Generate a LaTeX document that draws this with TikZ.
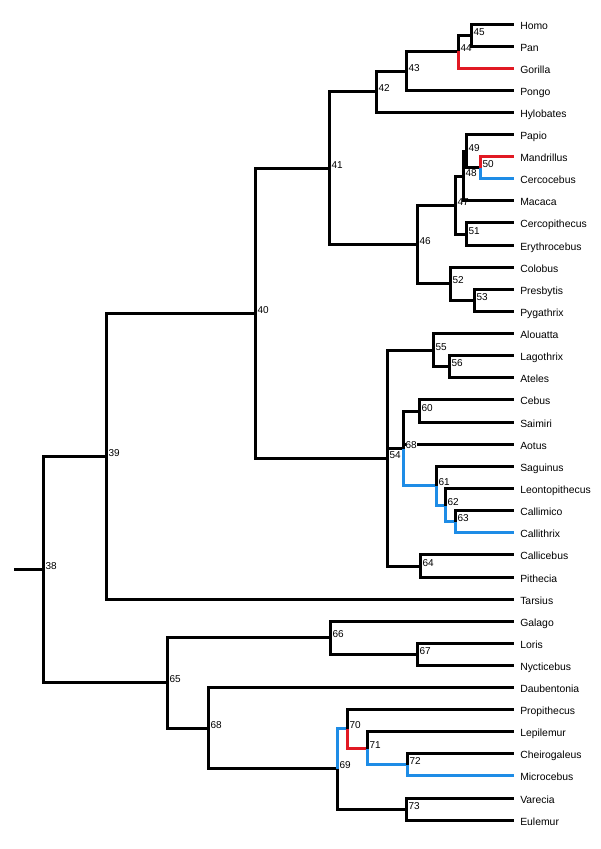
\documentclass[tikz,border=0pt]{standalone}
\usepackage{fontspec}
\setmainfont{Liberation Sans}
\usepackage{xcolor}
\usepackage{tikz}
\definecolor{branchred}{RGB}{225,25,35}
\definecolor{branchblue}{RGB}{30,140,230}

\begin{document}
\begin{tikzpicture}[x=0.75pt,y=0.75pt,
  branch/.style={black,line width=2.25pt},
  taxon/.style={anchor=west,inner xsep=4.5pt,inner ysep=0pt,text height=0.72em,text depth=0pt,font=\fontsize{7.8}{9}\selectfont},
  num/.style={anchor=base west,inner sep=0pt,xshift=1.3pt,font=\fontsize{7.5}{9}\selectfont}]
\useasboundingbox (0,0) rectangle (600,-849);

% Taxa
\node[taxon] (Homo) at (514,-24.5) {Homo};
\node[taxon] (Pan) at (514,-46.5) {Pan};
\node[taxon] (Gorilla) at (514,-68.5) {Gorilla};
\node[taxon] (Pongo) at (514,-90.5) {Pongo};
\node[taxon] (Hylobates) at (514,-112.5) {Hylobates};
\node[taxon] (Papio) at (514,-134.5) {Papio};
\node[taxon] (Mandrillus) at (514,-156.5) {Mandrillus};
\node[taxon] (Cercocebus) at (514,-178.5) {Cercocebus};
\node[taxon] (Macaca) at (514,-200.5) {Macaca};
\node[taxon] (Cercopithecus) at (514,-222.5) {Cercopithecus};
\node[taxon] (Erythrocebus) at (514,-245.5) {Erythrocebus};
\node[taxon] (Colobus) at (514,-267.5) {Colobus};
\node[taxon] (Presbytis) at (514,-289.5) {Presbytis};
\node[taxon] (Pygathrix) at (514,-311.5) {Pygathrix};
\node[taxon] (Alouatta) at (514,-333.5) {Alouatta};
\node[taxon] (Lagothrix) at (514,-355.5) {Lagothrix};
\node[taxon] (Ateles) at (514,-377.5) {Ateles};
\node[taxon] (Cebus) at (514,-399.5) {Cebus};
\node[taxon] (Saimiri) at (514,-422.5) {Saimiri};
\node[taxon] (Aotus) at (514,-444.5) {Aotus};
\node[taxon] (Saguinus) at (514,-466.5) {Saguinus};
\node[taxon] (Leontopithecus) at (514,-488.5) {Leontopithecus};
\node[taxon] (Callimico) at (514,-510.5) {Callimico};
\node[taxon] (Callithrix) at (514,-532.5) {Callithrix};
\node[taxon] (Callicebus) at (514,-554.5) {Callicebus};
\node[taxon] (Pithecia) at (514,-577.5) {Pithecia};
\node[taxon] (Tarsius) at (514,-599.5) {Tarsius};
\node[taxon] (Galago) at (514,-621.5) {Galago};
\node[taxon] (Loris) at (514,-643.5) {Loris};
\node[taxon] (Nycticebus) at (514,-665.5) {Nycticebus};
\node[taxon] (Daubentonia) at (514,-687.5) {Daubentonia};
\node[taxon] (Propithecus) at (514,-709.5) {Propithecus};
\node[taxon] (Lepilemur) at (514,-731.5) {Lepilemur};
\node[taxon] (Cheirogaleus) at (514,-753.5) {Cheirogaleus};
\node[taxon] (Microcebus) at (514,-775.5) {Microcebus};
\node[taxon] (Varecia) at (514,-798.5) {Varecia};
\node[taxon] (Eulemur) at (514,-820.5) {Eulemur};

% Internal nodes
\coordinate (root) at (14,-569.5);
\coordinate (n38) at (43.5,-569.5);
\coordinate (n39) at (106.5,-456.5);
\coordinate (n40) at (255.5,-313.5);
\coordinate (n41) at (329.5,-168.5);
\coordinate (n42) at (376.5,-91.5);
\coordinate (n43) at (406.5,-71.5);
\coordinate (n44) at (458.5,-51.5);
\coordinate (n45) at (471.5,-35.5);
\coordinate (n46) at (417.5,-244.5);
\coordinate (n47) at (455.5,-205.5);
\coordinate (n48) at (463.5,-176.5);
\coordinate (n49) at (466.5,-151.5);
\coordinate (n50) at (480.5,-167.5);
\coordinate (n51) at (466.5,-234.5);
\coordinate (n52) at (450.5,-283.5);
\coordinate (n53) at (474.5,-300.5);
\coordinate (n54) at (387.5,-458.5);
\coordinate (n55) at (433.5,-350.5);
\coordinate (n56) at (449.5,-366.5);
\coordinate (n58) at (403.5,-448.5);
\coordinate (n60) at (419.5,-411.5);
\coordinate (n61) at (436.5,-485.5);
\coordinate (n62) at (445.5,-505.5);
\coordinate (n63) at (455.5,-521.5);
\coordinate (n64) at (420.5,-566.5);
\coordinate (n65) at (167.5,-682.5);
\coordinate (n66) at (330.5,-637.5);
\coordinate (n67) at (417.5,-654.5);
\coordinate (n68) at (208.5,-728.5);
\coordinate (n69) at (337.5,-768.5);
\coordinate (n70) at (347.5,-728.5);
\coordinate (n71) at (367.5,-748.5);
\coordinate (n72) at (407.5,-764.5);
\coordinate (n73) at (406.5,-809.5);

% Backbone
\draw[branch] (root) -- (n38);
\draw[branch] (n38) |- (n39);
\draw[branch] (n38) |- (n65);
\draw[branch] (n39) |- (n40);
\draw[branch] (n39) |- (Tarsius.west);
\draw[branch] (n40) |- (n41);
\draw[branch] (n40) |- (n54);

% Hominoidea
\draw[branch] (n41) |- (n42);
\draw[branch] (n41) |- (n46);
\draw[branch] (n42) |- (n43);
\draw[branch] (n42) |- (Hylobates.west);
\draw[branch] (n43) |- (n44);
\draw[branch] (n43) |- (Pongo.west);
\draw[branch] (n44) |- (n45);
\draw[branch,branchred] (n44) |- (Gorilla.west);
\draw[branch] (n45) |- (Homo.west);
\draw[branch] (n45) |- (Pan.west);

% Cercopithecidae
\draw[branch] (n46) |- (n47);
\draw[branch] (n46) |- (n52);
\draw[branch] (n47) |- (n48);
\draw[branch] (n47) |- (n51);
\draw[branch] (n48) |- (n49);
\draw[branch] (n48) |- (Macaca.west);
\draw[branch] (n49) |- (Papio.west);
\draw[branch] (n49) |- (n50);
\draw[branch,branchred] (n50) |- (Mandrillus.west);
\draw[branch,branchblue] (n50) |- (Cercocebus.west);
\draw[branch] (n51) |- (Cercopithecus.west);
\draw[branch] (n51) |- (Erythrocebus.west);
\draw[branch] (n52) |- (Colobus.west);
\draw[branch] (n52) |- (n53);
\draw[branch] (n53) |- (Presbytis.west);
\draw[branch] (n53) |- (Pygathrix.west);

% Platyrrhini
\draw[branch] (n54) |- (n55);
\draw[branch] (n54) |- (n58);
\draw[branch] (n54) |- (n64);
\draw[branch] (n55) |- (Alouatta.west);
\draw[branch] (n55) |- (n56);
\draw[branch] (n56) |- (Lagothrix.west);
\draw[branch] (n56) |- (Ateles.west);
\draw[branch] (n58) |- (n60);
\draw[branch] (n58) |- (Aotus.west);
\draw[branch,branchblue] (n58) |- (n61);
\draw[branch] (n60) |- (Cebus.west);
\draw[branch] (n60) |- (Saimiri.west);
\draw[branch] (n61) |- (Saguinus.west);
\draw[branch,branchblue] (n61) |- (n62);
\draw[branch] (n62) |- (Leontopithecus.west);
\draw[branch,branchblue] (n62) |- (n63);
\draw[branch] (n63) |- (Callimico.west);
\draw[branch,branchblue] (n63) |- (Callithrix.west);
\draw[branch] (n64) |- (Callicebus.west);
\draw[branch] (n64) |- (Pithecia.west);

% Strepsirrhini
\draw[branch] (n65) |- (n66);
\draw[branch] (n65) |- (n68);
\draw[branch] (n66) |- (Galago.west);
\draw[branch] (n66) |- (n67);
\draw[branch] (n67) |- (Loris.west);
\draw[branch] (n67) |- (Nycticebus.west);
\draw[branch] (n68) |- (Daubentonia.west);
\draw[branch] (n68) |- (n69);
\draw[branch,branchblue] (n69) |- (n70);
\draw[branch] (n69) |- (n73);
\draw[branch] (n70) |- (Propithecus.west);
\draw[branch,branchred] (n70) |- (n71);
\draw[branch] (n71) |- (Lepilemur.west);
\draw[branch,branchblue] (n71) |- (n72);
\draw[branch] (n72) |- (Cheirogaleus.west);
\draw[branch,branchblue] (n72) |- (Microcebus.west);
\draw[branch] (n73) |- (Varecia.west);
\draw[branch] (n73) |- (Eulemur.west);

% Node numbers
\node[num] (t38) at (n38) {38};
\node[num] (t39) at (n39) {39};
\node[num] (t40) at (n40) {40};
\node[num] (t41) at (n41) {41};
\node[num] (t42) at (n42) {42};
\node[num] (t43) at (n43) {43};
\node[num] (t44) at (n44) {44};
\node[num] (t45) at (n45) {45};
\node[num] (t46) at (n46) {46};
\node[num] (t47) at (n47) {47};
\node[num] (t48) at (n48) {48};
\node[num] (t49) at (n49) {49};
\node[num] (t50) at (n50) {50};
\node[num] (t51) at (n51) {51};
\node[num] (t52) at (n52) {52};
\node[num] (t53) at (n53) {53};
\node[num] (t54) at (n54) {54};
\node[num] (t55) at (n55) {55};
\node[num] (t56) at (n56) {56};
\node[num,fill=white] (t58) at (n58) {68};
\node[num] (t60) at (n60) {60};
\node[num] (t61) at (n61) {61};
\node[num] (t62) at (n62) {62};
\node[num] (t63) at (n63) {63};
\node[num] (t64) at (n64) {64};
\node[num] (t65) at (n65) {65};
\node[num] (t66) at (n66) {66};
\node[num] (t67) at (n67) {67};
\node[num] (t68) at (n68) {68};
\node[num] (t69) at (n69) {69};
\node[num] (t70) at (n70) {70};
\node[num] (t71) at (n71) {71};
\node[num] (t72) at (n72) {72};
\node[num] (t73) at (n73) {73};
\end{tikzpicture}
\end{document}
